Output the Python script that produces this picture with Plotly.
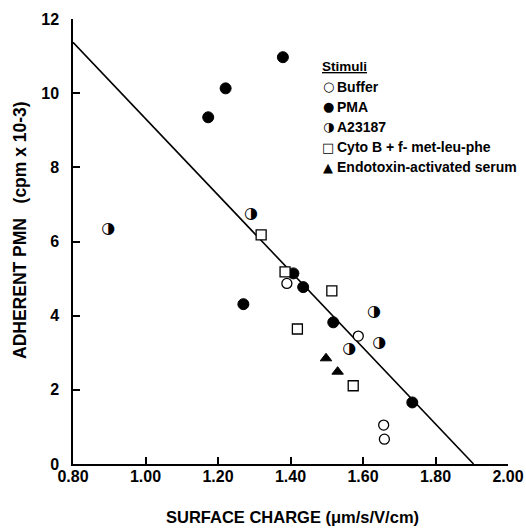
import plotly.graph_objects as go

# ---- data ----
buffer_x = [1.390, 1.587, 1.657, 1.659]
buffer_y = [4.87, 3.45, 1.05, 0.67]

pma_x = [1.173, 1.221, 1.379, 1.270, 1.408, 1.435, 1.518, 1.736]
pma_y = [9.35, 10.13, 10.97, 4.31, 5.14, 4.77, 3.82, 1.66]

a23187_x = [0.897, 1.291, 1.630, 1.645, 1.562]
a23187_y = [6.33, 6.74, 4.09, 3.25, 3.09]

cyto_x = [1.319, 1.385, 1.419, 1.514, 1.573]
cyto_y = [6.18, 5.18, 3.64, 4.67, 2.11]

endo_x = [1.498, 1.530]
endo_y = [2.85, 2.49]

fit_x = [0.80, 1.905]
fit_y = [11.37, 0.0]

x_ticks = [0.8, 1.0, 1.2, 1.4, 1.6, 1.8, 2.0]
x_ticklabels = ["0.80", "1.00", "1.20", "1.40", "1.60", "1.80", "2.00"]
y_ticks = [0, 2, 4, 6, 8, 10, 12]

x_title = "SURFACE CHARGE (μm/s/V/cm)"
y_title = "ADHERENT PMN   (cpm x 10-3)"
legend_title = "Stimuli"
legend_symbols = ["○", "●", "◑", "□", "▲"]
legend_labels = ["Buffer", "PMA", "A23187", "Cyto B + f- met-leu-phe", "Endotoxin-activated serum"]

FONT = "Liberation Sans"
W, H = 526, 530
ML, MR, MT, MB = 73, 18, 19, 66
PW, PH = W - ML - MR, H - MT - MB


def px_x(p):  # pixel column -> paper x
    return (p - ML) / PW


def px_y(p):  # pixel row -> paper y
    return (H - MB - p) / PH


fig = go.Figure()

fig.add_trace(go.Scatter(x=fit_x, y=fit_y, mode="lines",
                         line=dict(color="black", width=1.6), showlegend=False))

fig.add_trace(go.Scatter(x=buffer_x, y=buffer_y, mode="markers", showlegend=False,
                         marker=dict(symbol="circle", size=10, color="white",
                                     line=dict(color="black", width=1.3))))
fig.add_trace(go.Scatter(x=pma_x, y=pma_y, mode="markers", showlegend=False,
                         marker=dict(symbol="circle", size=11, color="black",
                                     line=dict(color="black", width=1))))
fig.add_trace(go.Scatter(x=cyto_x, y=cyto_y, mode="markers", showlegend=False,
                         marker=dict(symbol="square", size=10, color="white",
                                     line=dict(color="black", width=1.3))))
fig.add_trace(go.Scatter(x=endo_x, y=endo_y, mode="markers", showlegend=False,
                         marker=dict(symbol="triangle-up", size=10, color="black",
                                     line=dict(color="black", width=1))))
fig.add_trace(go.Scatter(x=a23187_x, y=a23187_y, mode="text", showlegend=False,
                         text=["◑"] * len(a23187_x), textposition="middle center",
                         textfont=dict(family="DejaVu Sans", size=16, color="black",
                                       weight="normal")))

anns = []
# axis titles
anns.append(dict(xref="paper", yref="paper", x=px_x(292), y=px_y(517),
                 xanchor="center", yanchor="middle", showarrow=False, text=x_title,
                 font=dict(family=FONT, size=16.5, color="black", weight="bold")))
anns.append(dict(xref="paper", yref="paper", x=px_x(20), y=px_y(230),
                 xanchor="center", yanchor="middle", showarrow=False, text=y_title,
                 textangle=-90,
                 font=dict(family=FONT, size=17.5, color="black", weight="bold")))
# legend built as text
anns.append(dict(xref="paper", yref="paper", x=px_x(320), y=px_y(67),
                 xanchor="left", yanchor="middle", showarrow=False,
                 text="<u>" + legend_title + "</u>",
                 font=dict(family=FONT, size=13.5, color="black", weight="bold")))
for i, (s, lab) in enumerate(zip(legend_symbols, legend_labels)):
    yy = px_y(87 + 20 * i)
    anns.append(dict(xref="paper", yref="paper", x=px_x(328), y=yy,
                     xanchor="center", yanchor="middle", showarrow=False, text=s,
                     font=dict(family="DejaVu Sans", size=13, color="black", weight="normal")))
    anns.append(dict(xref="paper", yref="paper", x=px_x(335), y=yy,
                     xanchor="left", yanchor="middle", showarrow=False, text=lab,
                     font=dict(family=FONT, size=14, color="black", weight="bold")))

fig.update_layout(
    width=W, height=H,
    margin=dict(l=ML, r=MR, t=MT, b=MB, autoexpand=False),
    paper_bgcolor="white", plot_bgcolor="white",
    font=dict(family=FONT, color="black", size=14, weight="bold"),
    annotations=anns,
    xaxis=dict(range=[0.8, 2.0], tickvals=x_ticks, ticktext=x_ticklabels,
               automargin=False,
               showgrid=False, zeroline=False, showline=True, linecolor="black",
               linewidth=1.5, ticks="inside", ticklen=7, tickwidth=1.5, tickcolor="black",
               tickfont=dict(family=FONT, size=16, weight="bold"),
               ticklabelstandoff=-3),
    yaxis=dict(range=[0, 12], tickvals=y_ticks, automargin=False,
               showgrid=False, zeroline=False, showline=True, linecolor="black",
               linewidth=1.5, ticks="inside", ticklen=7, tickwidth=1.5, tickcolor="black",
               tickfont=dict(family=FONT, size=16, weight="bold"),
               ticklabelstandoff=9),
)

fig.write_html("out.html", config={"displayModeBar": False},
               post_script="document.body.style.margin='0px';")
